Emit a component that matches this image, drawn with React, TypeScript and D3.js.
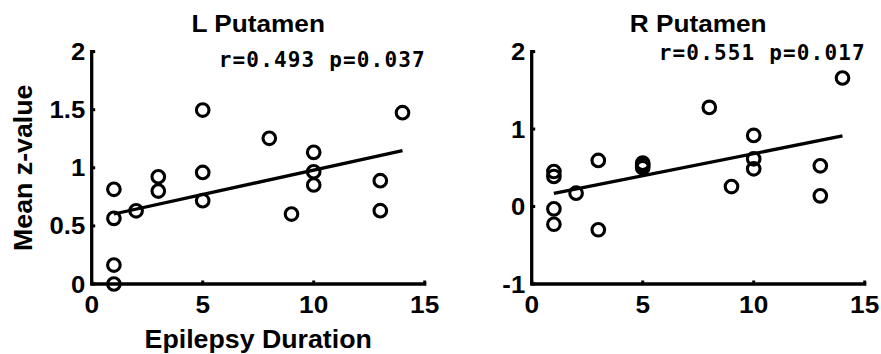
import React from "react";
import * as d3 from "d3";

const xTicks = [0, 5, 10, 15];
const yTicksL = [0, 0.5, 1, 1.5, 2];
const yTicksR = [-1, 0, 1, 2];

const durationL = [1, 1, 1, 1, 2, 3, 3, 5, 5, 5, 8, 9, 10, 10, 10, 13, 13, 14];
const valuesL = [0.815, 0.565, 0.163, 0.0, 0.63, 0.923, 0.8, 1.497, 0.96, 0.717, 1.254, 0.602, 1.133, 0.966, 0.852, 0.889, 0.631, 1.474];

const durationR = [1, 1, 1, 1, 2, 3, 3, 5, 5, 5, 8, 9, 10, 10, 10, 13, 13, 14];
const valuesR = [0.452, 0.388, -0.03, -0.229, 0.172, 0.595, -0.3, 0.56, 0.53, 0.5, 1.28, 0.258, 0.918, 0.616, 0.487, 0.526, 0.138, 1.659];

const titles = ["L Putamen", "R Putamen"];
const stats = ["r=0.493  p=0.037", "r=0.551  p=0.017"];
const xLabel = "Epilepsy Duration";
const yLabel = "Mean z-value";

const FONT = "'Liberation Sans', Arial, sans-serif";
const SX = 1.07;

function fit(xs: number[], ys: number[]) {
  const mx = d3.mean(xs)!;
  const my = d3.mean(ys)!;
  let sxy = 0, sxx = 0;
  xs.forEach((x, i) => {
    sxy += (x - mx) * (ys[i] - my);
    sxx += (x - mx) * (x - mx);
  });
  const b = sxy / sxx;
  return { a: my - b * mx, b };
}

function T({ x, y, anchor, size, children, rotate }: { x: number; y: number; anchor: string; size: number; children: React.ReactNode; rotate?: boolean }) {
  const tr = rotate ? `translate(${x},${y}) rotate(-90) scale(${SX},1)` : `translate(${x},${y}) scale(${SX},1)`;
  return (
    <text transform={tr} textAnchor={anchor} fontFamily={FONT} fontWeight="bold" fontSize={size} fill="#000">
      {children}
    </text>
  );
}

type PanelProps = {
  ox: number;
  xs: number[];
  ys: number[];
  yDomain: [number, number];
  yTicks: number[];
  title: string;
  stat: string;
  statY: number;
  showLabels: boolean;
};

function Panel({ ox, xs, ys, yDomain, yTicks, title, stat, statY, showLabels }: PanelProps) {
  const x = d3.scaleLinear().domain([0, 15]).range([ox + 91.7, ox + 424.7]);
  const y = d3.scaleLinear().domain(yDomain).range([284, 51.6]);
  const { a, b } = fit(xs, ys);
  const xMin = d3.min(xs)!;
  const xMax = d3.max(xs)!;
  const line = d3.line<number>().x((d) => x(d)).y((d) => y(a + b * d));
  const x0 = x(0);
  const yb = y(yDomain[0]);
  const axisPath = `M${x0},${y(yDomain[1])}L${x0},${yb}L${x(15)},${yb}`;
  return (
    <g>
      <T x={(x(0) + x(15)) / 2} y={32} anchor="middle" size={24.5}>{title}</T>
      <text x={x(15)} y={statY} textAnchor="end" fontFamily="'DejaVu Sans Mono', monospace" fontWeight="bold" fontSize={21} fill="#000" textLength={206} lengthAdjust="spacing">
        {stat}
      </text>
      <path d={axisPath} fill="none" stroke="#000" strokeWidth={3.3} strokeLinecap="square" strokeLinejoin="miter" />
      {xTicks.map((t) => (
        <g key={"xt" + t}>
          <line x1={x(t)} x2={x(t)} y1={yb} y2={yb - 3.5} stroke="#000" strokeWidth={3} />
          <T x={x(t)} y={313} anchor="middle" size={24.5}>{t}</T>
        </g>
      ))}
      {yTicks.map((t) => (
        <g key={"yt" + t}>
          <line x1={x0} x2={x0 + 3.5} y1={y(t)} y2={y(t)} stroke="#000" strokeWidth={3} />
          <T x={x0 - 6.5} y={y(t) + 8.5} anchor="end" size={24}>{t}</T>
        </g>
      ))}
      <path d={line([xMin, xMax])!} fill="none" stroke="#000" strokeWidth={3.3} />
      {xs.map((d, i) => (
        <circle key={i} cx={x(d)} cy={y(ys[i])} r={6.3} fill="none" stroke="#000" strokeWidth={3.1} />
      ))}
      {showLabels && (
        <>
          <T x={(x(0) + x(15)) / 2} y={348} anchor="middle" size={25}>{xLabel}</T>
          <T x={32} y={(y(yDomain[0]) + y(yDomain[1])) / 2} anchor="middle" size={25} rotate>{yLabel}</T>
        </>
      )}
    </g>
  );
}

export default function App() {
  return (
    <svg width={881} height={354} style={{ position: "absolute", left: 0, top: 0, background: "#fff" }}>
      <rect width={881} height={354} fill="#fff" />
      <Panel ox={0} xs={durationL} ys={valuesL} yDomain={[0, 2]} yTicks={yTicksL} title={titles[0]} stat={stats[0]} statY={66.5} showLabels={true} />
      <Panel ox={440} xs={durationR} ys={valuesR} yDomain={[-1, 2]} yTicks={yTicksR} title={titles[1]} stat={stats[1]} statY={60} showLabels={false} />
    </svg>
  );
}
